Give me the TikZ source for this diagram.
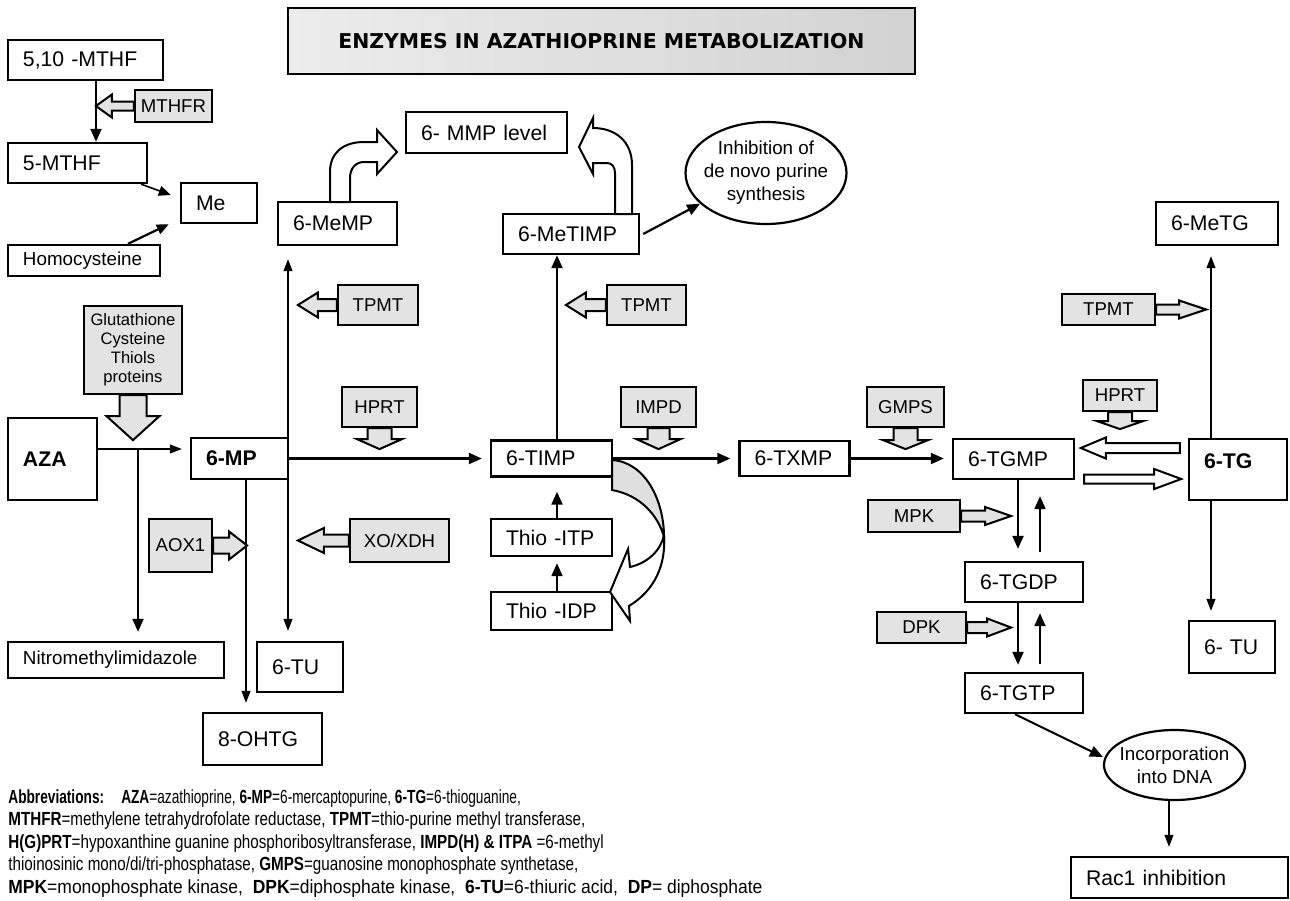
\documentclass[tikz,border=0pt]{standalone}
\usepackage{fontspec}
\setmainfont{Liberation Sans}
\newfontfamily\titlefont{DejaVu Sans}
\newfontfamily\narrowfont[FakeStretch=0.8]{Liberation Sans}
\usetikzlibrary{arrows.meta,shapes.geometric}

\tikzset{
  box/.style={draw, line width=1.2pt, fill=white, align=left, inner xsep=7.5pt,
    inner ysep=0pt, font=\fontsize{10.6}{12}\selectfont},
  enz/.style={draw, line width=1.1pt, fill=gray!22, inner sep=0pt, align=center,
    font=\fontsize{9.3}{11}\selectfont},
  cloud/.style={ellipse, draw, line width=1.1pt, fill=white, inner xsep=-3pt,
    inner ysep=0pt, align=center, font=\fontsize{9.4}{11.5}\selectfont},
  flow/.style={line width=1.1pt, -{Triangle[length=6.5pt,width=5.5pt]}, shorten >=4pt},
  thinflow/.style={line width=0.55pt, -{Triangle[length=6pt,width=4.5pt]}, shorten >=4.5pt},
  hollow/.style={draw, line width=1pt, fill=white},
  callout/.style={draw, line width=1pt, fill=gray!22},
  pics/blockarr/.style n args={4}{code={
    \path[pic actions] (0,-#2) -- (#1-#4,-#2) -- (#1-#4,-#3) -- (#1,0)
      -- (#1-#4,#3) -- (#1-#4,#2) -- (0,#2) -- cycle;
  }},
}

\begin{document}
\begin{tikzpicture}[x=0.5pt,y=-0.5pt]
    \path[use as bounding box, fill=white] (0,0) rectangle (1290,900);

    % title
    \node[draw, line width=1pt, minimum width=313.5pt, minimum height=33pt,
        left color=gray!15, middle color=white, right color=gray!35,
        font=\titlefont\bfseries\fontsize{10.2}{12}\selectfont]
        (title) at (601.5,41) {ENZYMES IN AZATHIOPRINE METABOLIZATION};

    % folate side branch
    \node[box, text width=62.5pt, minimum height=20pt] (mthf510) at (85.5,60) {5,10 -MTHF};
    \node[box, text width=54.5pt, minimum height=20pt] (mthf5) at (77.5,163) {5-MTHF};
    \node[box, text width=23pt, minimum height=20pt] (me) at (219,203) {Me};
    \node[box, text width=61pt, minimum height=15.5pt, font=\fontsize{9.4}{11}\selectfont]
        (homocys) at (84,260.5) {Homocysteine};
    \node[enz, minimum width=38.5pt, minimum height=16pt] (mthfr) at (173.5,106) {MTHFR};
    \pic[rotate=180, callout] at (mthfr.west) {blockarr={38}{4.5}{11.5}{16}};
    \draw[flow, shorten >=0pt] (mthf510.south -| 96,0) -- (mthf5.north -| 96,0);
    \draw[line width=0.8pt, -{Triangle[length=6pt,width=5pt]}]
        ([xshift=-3.5pt]mthf5.south east) -- ([xshift=-4.5pt,yshift=4pt]me.west);
    \draw[line width=1.1pt, -{Triangle[length=6pt,width=5pt]}]
        ([xshift=22pt]homocys.north) -- ([xshift=-5.5pt]me.south west);

    % upper row
    \node[box, text width=44.5pt, minimum height=21.5pt] (memp) at (337.5,223.5) {6-MeMP};
    \node[box, text width=65.5pt, minimum height=20.5pt] (mmp) at (486.5,132.5) {6- MMP level};
    \node[box, text width=53pt, minimum height=20pt] (metimp) at (571,234) {6-MeTIMP};
    \node[cloud, minimum width=80.5pt, minimum height=51pt] (inhib) at (766,173)
        {Inhibition of\\de novo purine\\synthesis};
    \node[box, text width=46pt, minimum height=21.5pt] (metg) at (1217,223.5) {6-MeTG};

    % main row
    \node[box, text width=29.5pt, minimum height=41pt, font=\bfseries\fontsize{10.6}{12}\selectfont]
        (aza) at (52.5,459) {AZA};
    \node[box, text width=33.5pt, minimum height=20.5pt, font=\bfseries\fontsize{10.6}{12}\selectfont]
        (mp) at (239.5,458.5) {6-MP};
    \node[box, text width=45.5pt, minimum height=18pt] (timp) at (551.5,458.5) {6-TIMP};
    \node[box, text width=40pt, minimum height=17.5pt] (txmp) at (794.5,458.5) {6-TXMP};
    \node[box, text width=45.5pt, minimum height=20pt] (tgmp) at (1013.5,459) {6-TGMP};
    \node[box, text width=34pt, text height=14.5pt, text depth=16pt,
        font=\bfseries\fontsize{10.6}{12}\selectfont] (tg) at (1238,469.5) {6-TG};

    % lower boxes
    \node[box, text width=45.5pt, minimum height=18.5pt] (itp) at (551.5,537.5) {Thio -ITP};
    \node[box, text width=45.5pt, minimum height=19pt] (idp) at (551.5,611) {Thio -IDP};
    \node[box, text width=93pt, minimum height=18pt, font=\fontsize{9.4}{11}\selectfont]
        (nitro) at (116,660) {Nitromethylimidazole};
    \node[box, text width=28pt, minimum height=25pt] (tuA) at (300,667) {6-TU};
    \node[box, text width=44.5pt, minimum height=26pt] (ohtg) at (262.5,739) {8-OHTG};
    \node[box, text width=44pt, minimum height=20pt] (tgdp) at (1024,582) {6-TGDP};
    \node[box, text width=44pt, minimum height=20pt] (tgtp) at (1024,693) {6-TGTP};
    \node[box, text width=28pt, minimum height=26pt] (tuB) at (1232,647) {6- TU};
    \node[cloud, minimum width=70.5pt, minimum height=35pt] (incorp) at (1174.5,765)
        {Incorporation\\into DNA};
    \node[box, text width=93.5pt, minimum height=20.5pt] (rac) at (1179.5,877.5) {Rac1 inhibition};

    % enzymes
    \node[enz, minimum width=49pt, minimum height=44pt, font=\fontsize{8.3}{9.5}\selectfont]
        (glut) at (133,350) {Glutathione\\Cysteine\\Thiols\\proteins};
    \pic[rotate=-90, callout] at (glut.south) {blockarr={45}{13.5}{26.5}{24}};
    \node[enz, minimum width=40pt, minimum height=20pt] (tpmtA) at (378,305) {TPMT};
    \pic[rotate=180, callout] at (tpmtA.west) {blockarr={39}{6}{12.5}{20}};
    \node[enz, minimum width=39.5pt, minimum height=20pt] (tpmtB) at (646.5,305) {TPMT};
    \pic[rotate=180, callout] at (tpmtB.west) {blockarr={40}{6}{12.5}{20}};
    \node[enz, minimum width=46.5pt, minimum height=15.5pt] (tpmtC) at (1108.5,309.5) {TPMT};
    \pic[callout] at (tpmtC.east) {blockarr={50}{5}{9}{27}};
    \node[enz, minimum width=37.5pt, minimum height=20pt] (hprtA) at (379.5,407) {HPRT};
    \pic[rotate=-90, callout] at (hprtA.south) {blockarr={21}{12}{22.5}{10}};
    \node[enz, minimum width=37.5pt, minimum height=20pt] (impd) at (658.5,407) {IMPD};
    \pic[rotate=-90, callout] at (impd.south) {blockarr={21}{11}{22}{10}};
    \node[enz, minimum width=38.5pt, minimum height=20pt] (gmps) at (905.5,407) {GMPS};
    \pic[rotate=-90, callout] at (gmps.south) {blockarr={21}{12}{22.5}{9}};
    \node[enz, minimum width=37pt, minimum height=15.5pt] (hprtB) at (1120,395.5) {HPRT};
    \pic[rotate=-90, callout] at (hprtB.south) {blockarr={17}{12}{23}{8}};
    \node[enz, minimum width=31.5pt, minimum height=26.5pt] (aox) at (180.5,545.5) {AOX1};
    \pic[callout] at (aox.east) {blockarr={34}{8}{14}{18}};
    \node[enz, minimum width=49.5pt, minimum height=21.5pt] (xo) at (399.5,540.5) {XO/XDH};
    \pic[rotate=180, callout] at (xo.west) {blockarr={51}{6}{12.5}{26}};
    \node[enz, minimum width=46pt, minimum height=16pt] (mpk) at (914,516) {MPK};
    \pic[callout] at (mpk.east) {blockarr={50}{5.5}{9}{26}};
    \node[enz, minimum width=44.5pt, minimum height=15.5pt] (dpk) at (921.5,627.5) {DPK};
    \pic[callout] at (dpk.east) {blockarr={44}{5.5}{9}{24}};

    % connectors
    \coordinate (jaza) at (138,449);
    \draw[thinflow, shorten >=4pt] (aza.east |- jaza) -- (mp.west |- jaza);
    \draw[flow, shorten >=4.5pt] (jaza) -- (jaza |- nitro.north);
    \draw[flow] (mp.east) -- (mp.east -| timp.west);
    \draw[flow] (timp.east) -- (timp.east -| txmp.west);
    \draw[flow] (txmp.east) -- (txmp.east -| tgmp.west);
    \draw[flow, shorten >=0pt] (timp.north -| 557,0) -- (metimp.south -| 557,0);
    \draw[flow, shorten >=7pt] (itp.north -| 557,0) -- (timp.south -| 557,0);
    \draw[flow, shorten >=3pt] (idp.north -| 557,0) -- (itp.south -| 557,0);
    \draw[flow, shorten >=0pt] ([xshift=1.5pt]metimp.east) -- (inhib.205);
    \draw[thinflow, {Triangle[length=6pt,width=4.5pt]}-{Triangle[length=6pt,width=4.5pt]},
        shorten <=6.5pt, shorten >=5pt] (memp.south -| 288,0) -- (tuA.north -| 288,0);
    \draw[thinflow] (mp.south -| 246,0) -- (ohtg.north -| 246,0);
    \draw[thinflow, shorten >=5pt] (tg.north -| 1211,0) -- (metg.south -| 1211,0);
    \draw[thinflow] (tg.south -| 1211,0) -- (tuB.north -| 1211,0);
    \draw[flow, shorten >=6pt] (tgmp.south -| 1018,0) -- (tgdp.north -| 1018,0);
    \draw[flow, shorten <=4.5pt, shorten >=8pt] (tgdp.north -| 1040,0) -- (tgmp.south -| 1040,0);
    \draw[flow, shorten >=3.5pt] (tgdp.south -| 1018,0) -- (tgtp.north -| 1018,0);
    \draw[flow, shorten <=4pt, shorten >=5pt] (tgtp.north -| 1040,0) -- (tgdp.south -| 1040,0);
    \draw[flow, line width=1pt, shorten >=0pt] ([xshift=-4.5pt]tgtp.south) -- ([yshift=4pt]incorp.west);
    \draw[thinflow] (incorp.south -| 1169,0) -- (rac.north -| 1169,0);

    % hollow arrows between 6-TG and 6-TGMP
    \pic[rotate=180, hollow] at ([xshift=-4pt,yshift=10.75pt]tg.west) {blockarr={99}{5}{10.5}{25}};
    \pic[hollow] at ([xshift=4.5pt,yshift=-10pt]tgmp.east) {blockarr={97}{4.5}{10}{27}};

    % bent arrows to 6-MMP level
    \draw[hollow] (330,202) -- (330,172) .. controls (330,152) and (344,142) .. (364,142)
        -- (377,142) -- (377,130) -- (397,152) -- (377,174) -- (377,162) -- (364,162)
        .. controls (356,162) and (350,168) .. (350,178) -- (350,202) -- cycle;
    \draw[hollow] (632,214) -- (632,165) .. controls (632,142) and (616,128) .. (593,128)
        -- (593,118) -- (579,147) -- (593,174) -- (593,163) -- (607,163)
        .. controls (612,163) and (615,167) .. (615,173) -- (615,214) -- cycle;

    % twisted arrow from 6-TIMP back to Thio-IDP
    \draw[line width=1pt, fill=gray!25] (612,460) .. controls (645,462) and (664,500) .. (664,537)
        .. controls (658,515) and (640,495) .. (612,490) -- cycle;
    \draw[hollow] (664,535) .. controls (666,565) and (655,590) .. (629,606) -- (630,621)
        -- (610,592) -- (628,549) -- (630,567) .. controls (648,563) and (661,550) .. (664,535) -- cycle;

    % abbreviations
    \node[anchor=north west, align=left, inner sep=0pt,
        font=\narrowfont\fontsize{9.5}{11.25}\selectfont] (abbr) at (8,789)
        {\scalebox{0.9}[1]{\textbf{Abbreviations:}\hspace{1em}\textbf{AZA}=azathioprine, \textbf{6-MP}=6-mercaptopurine, \textbf{6-TG}=6-thioguanine,}\\
         \textbf{MTHFR}=methylene tetrahydrofolate reductase, \textbf{TPMT}=thio-purine methyl transferase,\\
         \textbf{H(G)PRT}=hypoxanthine guanine phosphoribosyltransferase, \textbf{IMPD(H) \& ITPA} =6-methyl\\
         thioinosinic mono/di/tri-phosphatase, \textbf{GMPS}=guanosine monophosphate synthetase,\\
         \scalebox{1.15}[1]{\textbf{MPK}=monophosphate kinase,\ \ \textbf{DPK}=diphosphate kinase,\ \ \textbf{6-TU}=6-thiuric acid,\ \ \textbf{DP}= diphosphate}};
\end{tikzpicture}
\end{document}
